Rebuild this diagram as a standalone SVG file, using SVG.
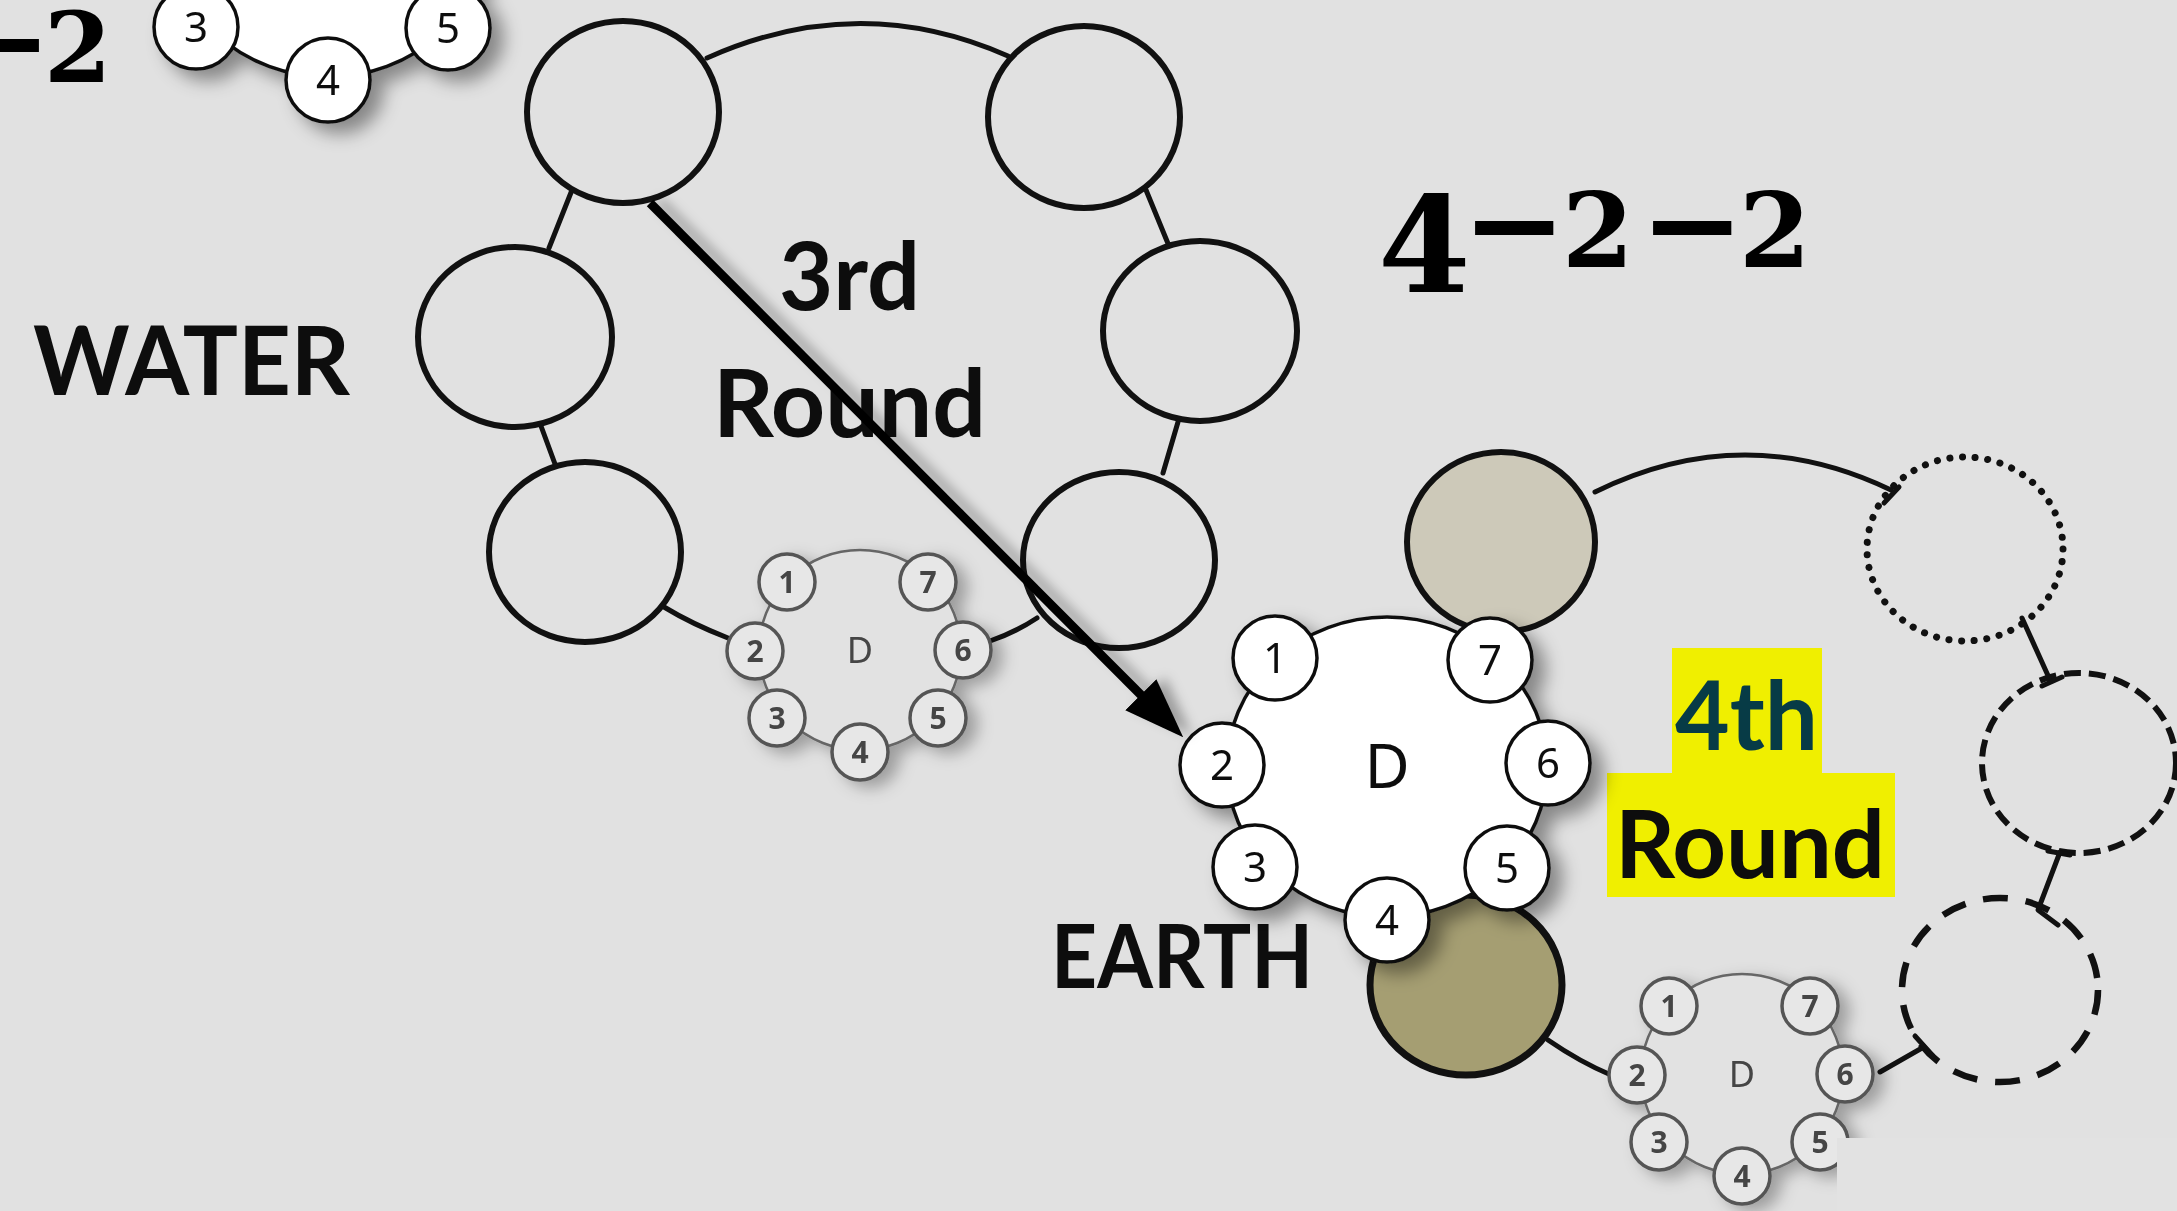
<svg xmlns="http://www.w3.org/2000/svg" width="2177" height="1211" viewBox="0 0 2177 1211">
<defs>
<style>
.rc{fill:#e1e1e1;stroke:#111;stroke-width:6}
.seg{fill:none;stroke:#111;stroke-width:5;stroke-linecap:round;stroke-linejoin:round}
.lbl{font-family:Lato,"Open Sans","Liberation Sans",sans-serif;font-weight:700;fill:#0d0d0d}
.ser{font-family:"DejaVu Serif","Liberation Serif",serif;font-weight:700;fill:#000}
.bc{fill:#fff;stroke:#111;stroke-width:3.5}
.bn{font-family:"Noto Sans","Open Sans",sans-serif;font-size:42px;fill:#111;text-anchor:middle}
.sc{fill:#e7e7e7;stroke:#555;stroke-width:3.5}
.sb{fill:#e2e2e2;stroke:#666;stroke-width:2.5}
.sn{font-family:"Noto Sans","Open Sans",sans-serif;font-size:30px;font-weight:700;fill:#444;text-anchor:middle}
</style>
<filter id="shBig" x="-30%" y="-30%" width="160%" height="160%">
<feDropShadow dx="12" dy="10" stdDeviation="9" flood-color="#000" flood-opacity="0.4"/>
</filter>
<filter id="shSm" x="-30%" y="-30%" width="160%" height="160%">
<feDropShadow dx="10" dy="6" stdDeviation="8" flood-color="#000" flood-opacity="0.3"/>
</filter>
<filter id="shAr" x="-20%" y="-20%" width="140%" height="140%">
<feDropShadow dx="9" dy="-2" stdDeviation="6" flood-color="#000" flood-opacity="0.3"/>
</filter>
<marker id="ah" markerUnits="userSpaceOnUse" markerWidth="60" markerHeight="44" viewBox="0 0 60 44" refX="30" refY="22" orient="auto">
<path d="M0,0 L60,22 L0,44 Z" fill="#000"/>
</marker>
<g id="bigD">
<ellipse cx="0" cy="0" rx="160" ry="150" class="bc"/>
<circle cx="-112" cy="-109" r="42" class="bc"/>
<circle cx="103" cy="-107" r="42" class="bc"/>
<circle cx="-165" cy="-2" r="42" class="bc"/>
<circle cx="161" cy="-4" r="42" class="bc"/>
<circle cx="-132" cy="100" r="42" class="bc"/>
<circle cx="120" cy="101" r="42" class="bc"/>
<circle cx="0" cy="153" r="42" class="bc"/>
<text class="bn" x="-112" y="-94">1</text>
<text class="bn" x="103" y="-92">7</text>
<text class="bn" x="-165" y="13">2</text>
<text class="bn" x="161" y="11">6</text>
<text class="bn" x="-132" y="115">3</text>
<text class="bn" x="120" y="116">5</text>
<text class="bn" x="0" y="168">4</text>
<text class="bn" x="0" y="21" style="font-size:62px">D</text>
</g>
<g id="smallD">
<ellipse cx="0" cy="0" rx="101" ry="100" class="sb"/>
<circle cx="-73" cy="-68" r="28" class="sc"/>
<circle cx="68" cy="-68" r="28" class="sc"/>
<circle cx="-105" cy="1" r="28" class="sc"/>
<circle cx="103" cy="0" r="28" class="sc"/>
<circle cx="-83" cy="68" r="28" class="sc"/>
<circle cx="78" cy="68" r="28" class="sc"/>
<circle cx="0" cy="102" r="28" class="sc"/>
<text class="sn" x="-73" y="-57">1</text>
<text class="sn" x="68" y="-57">7</text>
<text class="sn" x="-105" y="12">2</text>
<text class="sn" x="103" y="11">6</text>
<text class="sn" x="-83" y="79">3</text>
<text class="sn" x="78" y="79">5</text>
<text class="sn" x="0" y="113">4</text>
<text class="sn" x="0" y="13" style="font-size:36px;font-weight:400">D</text>
</g>
</defs>

<rect x="0" y="0" width="2177" height="1211" fill="#e1e1e1"/>

<!-- 3rd round ring circles -->
<g id="round3">
<ellipse id="r3c1" cx="623" cy="112" rx="96" ry="91" class="rc"/>
<ellipse id="r3c2" cx="1084" cy="117" rx="96" ry="91" class="rc"/>
<ellipse id="r3c3" cx="515" cy="337" rx="97" ry="90" class="rc"/>
<ellipse id="r3c4" cx="1200" cy="331" rx="97" ry="90" class="rc"/>
<ellipse id="r3c5" cx="585" cy="552" rx="96" ry="90" class="rc"/>
<ellipse id="r3c6" cx="1119" cy="560" rx="96" ry="88" class="rc"/>
</g>

<!-- 4th round ring circles -->
<g id="round4">
<ellipse id="r4beige" cx="1501" cy="542" rx="94" ry="90" fill="#cdc9b9" stroke="#111" stroke-width="6"/>
<ellipse id="r4dotted" cx="1965" cy="549" rx="98" ry="92" fill="none" stroke="#111" stroke-width="7" stroke-linecap="round" stroke-dasharray="0.1 12.6"/>
<ellipse id="r4dash" cx="2079" cy="763" rx="97" ry="90" fill="none" stroke="#111" stroke-width="6" stroke-dasharray="17 8"/>
<ellipse id="r4longdash" cx="2000" cy="990" rx="98" ry="92" fill="none" stroke="#111" stroke-width="6.5" stroke-dasharray="25 18"/>
<ellipse id="r4olive" cx="1466" cy="985" rx="96" ry="90" fill="#a59e72" stroke="#111" stroke-width="7"/>
</g>

<!-- ring connectors -->
<g id="connectors">
<path class="seg" d="M707,58 Q859,-10 1008,56"/>
<path class="seg" d="M572,190 L549,248"/>
<path class="seg" d="M541,426 L555,464"/>
<path class="seg" d="M664,607 Q692,624 728,638"/>
<path class="seg" d="M1146,190 L1169,246"/>
<path class="seg" d="M1178,422 L1163,473"/>
<path class="seg" d="M1037,618 Q1016,632 990,641"/>
<path class="seg" d="M1595,492 Q1743,419 1891,490"/>
<path class="seg" d="M1884,503 L1899,487"/>
<path class="seg" d="M2022,618 L2050,680"/>
<path class="seg" d="M2042,686 L2062,677"/>
<path class="seg" d="M2060,852 L2038,910 L2058,925"/>
<path class="seg" d="M2048,851 L2070,855"/>
<path class="seg" d="M1880,1072 L1922,1048"/>
<path class="seg" d="M1915,1036 L1933,1056"/>
<path class="seg" d="M1548,1040 Q1580,1062 1611,1075"/>
</g>

<!-- small D groups -->
<g id="smallD3" filter="url(#shSm)"><use href="#smallD" transform="translate(860,650)"/></g>
<g id="smallD4" filter="url(#shSm)"><use href="#smallD" transform="translate(1742,1074)"/></g>
<rect x="1837" y="1138" width="340" height="73" fill="#e2e2e2"/>

<!-- labels -->
<text class="ser" font-size="97"><tspan x="-46" y="82" font-size="116">−</tspan><tspan x="44" y="82">2</tspan></text>
<text class="ser" font-size="103"><tspan x="1378" y="292" font-size="133">4</tspan><tspan x="1462" y="267" font-size="125">−</tspan><tspan x="1562" y="267">2</tspan><tspan x="1640" y="267" font-size="125">−</tspan><tspan x="1739" y="267">2</tspan></text>
<text class="lbl" x="33" y="395" font-size="95" textLength="317" lengthAdjust="spacingAndGlyphs">WATER</text>
<text class="lbl" x="779" y="310" font-size="94" textLength="141" lengthAdjust="spacingAndGlyphs">3rd</text>
<text class="lbl" x="713" y="437" font-size="94" textLength="273" lengthAdjust="spacingAndGlyphs">Round</text>
<text class="lbl" x="1051" y="988" font-size="88" textLength="262" lengthAdjust="spacingAndGlyphs">EARTH</text>
<path id="highlight" d="M1672,648 H1822 V773 H1895 V897 H1607 V773 H1672 Z" fill="#f0ef00"/>
<text class="lbl" x="1675" y="750" font-size="95" textLength="143" lengthAdjust="spacingAndGlyphs" style="fill:#073b46">4th</text>
<text class="lbl" x="1615" y="878" font-size="94" textLength="270" lengthAdjust="spacingAndGlyphs">Round</text>

<!-- big D groups -->
<g id="bigDtop" filter="url(#shBig)"><use href="#bigD" transform="translate(328,-73)"/></g>
<g id="bigDmain" filter="url(#shBig)"><use href="#bigD" transform="translate(1387,767)"/></g>

<!-- arrow -->
<g id="arrow" filter="url(#shAr)">
<line x1="650" y1="203" x2="1162" y2="716" stroke="#000" stroke-width="9" marker-end="url(#ah)"/>
</g>
</svg>
